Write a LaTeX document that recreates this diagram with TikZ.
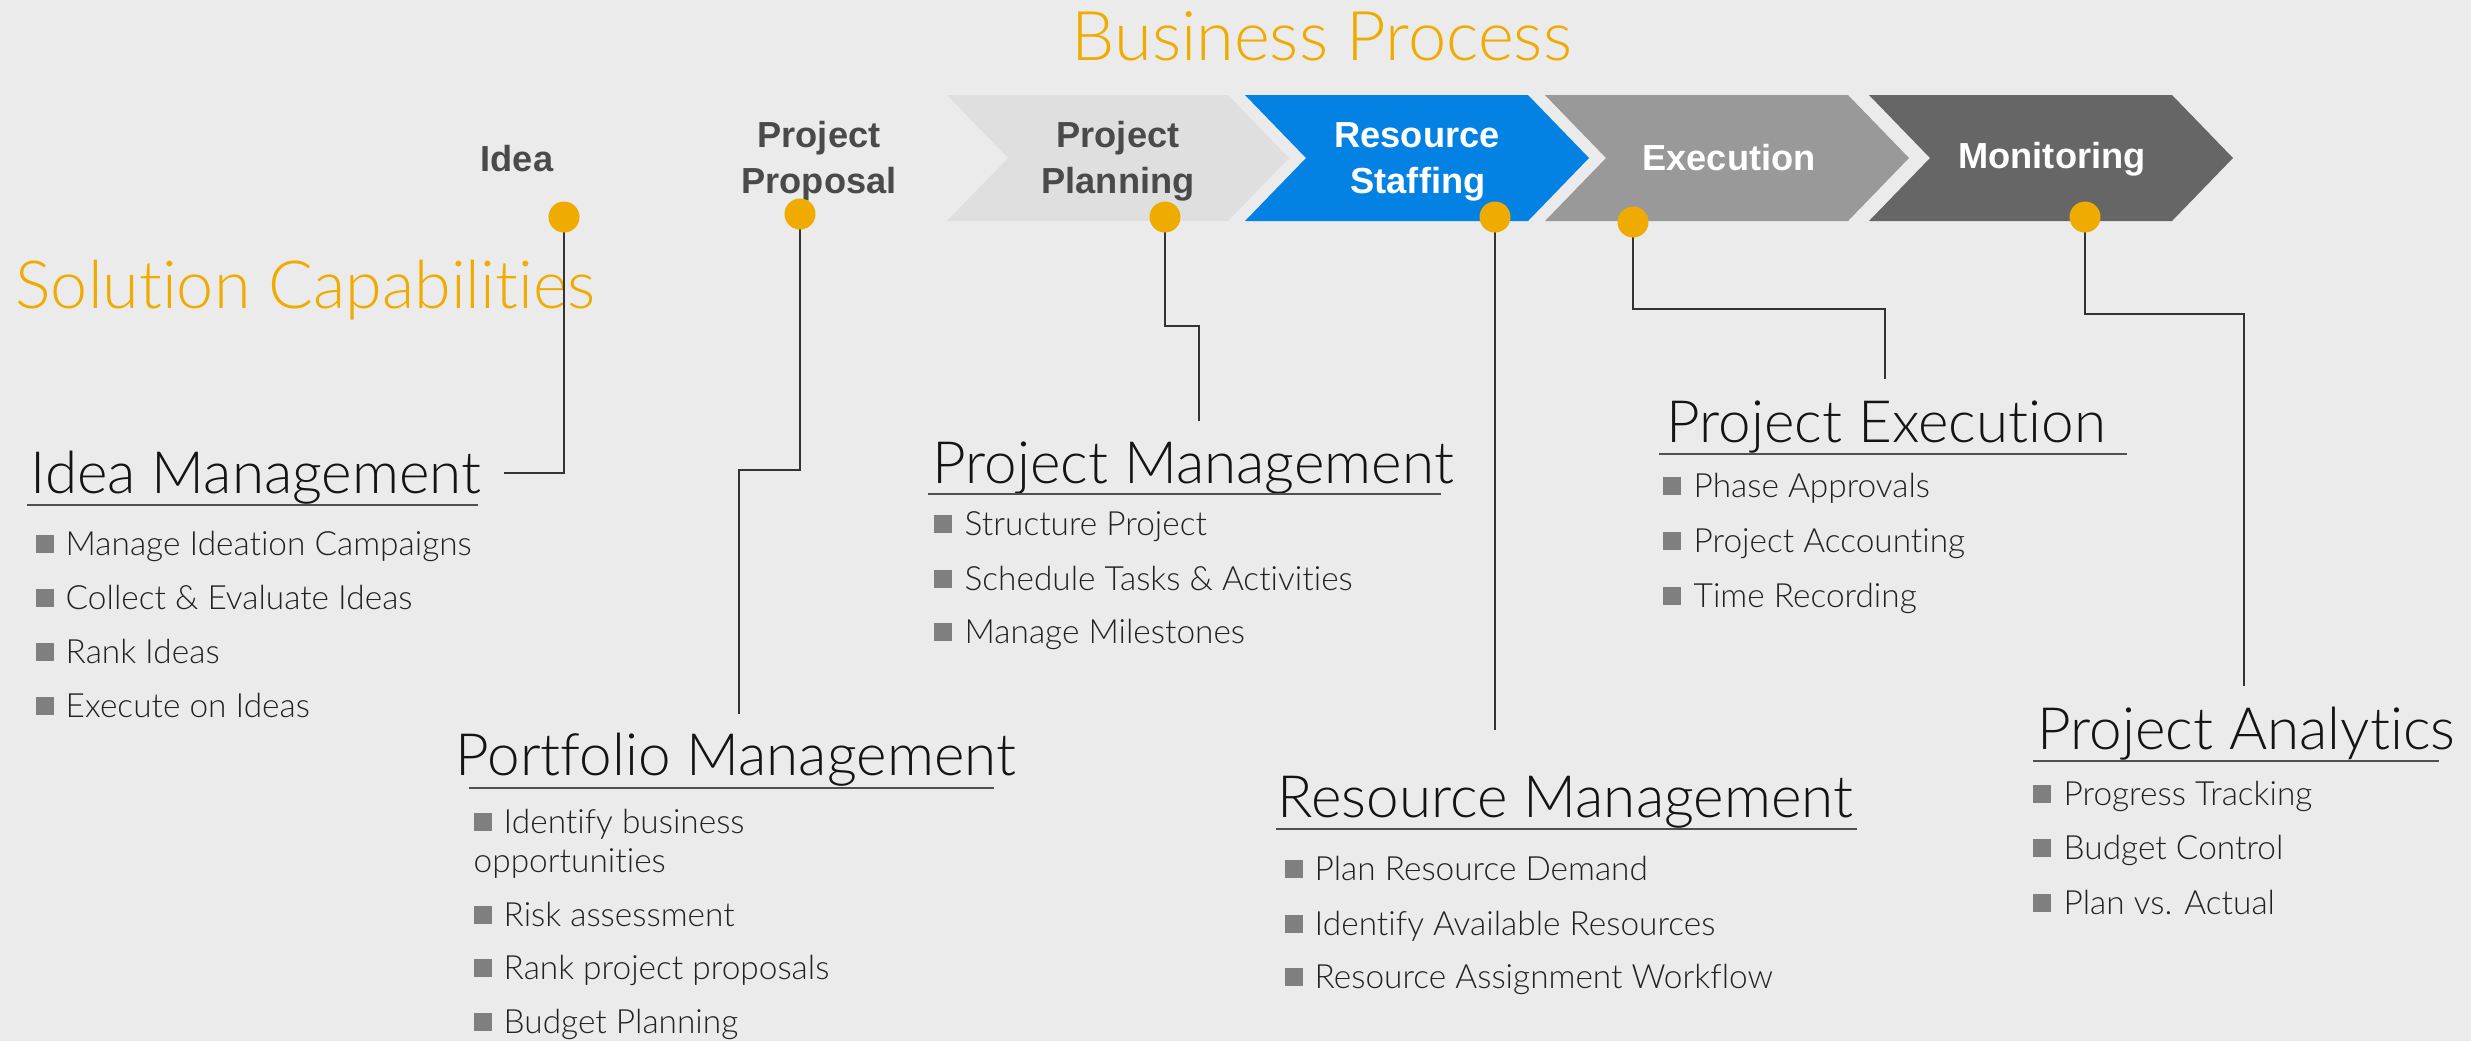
\documentclass[tikz,border=0pt]{standalone}
\usepackage{fontspec}
\IfFontExistsTF{Lato Light}
  {\setmainfont{Lato Light}[Ligatures={NoCommon}]}
  {\setmainfont{Lato}[Ligatures={NoCommon}]}
\newfontfamily\chevfont{Liberation Sans}
\definecolor{bgc}{HTML}{EBEBEB}
\definecolor{sapgold}{HTML}{F0AB00}
\definecolor{planc}{HTML}{DFDFDF}
\definecolor{bluec}{HTML}{0482E3}
\definecolor{execc}{HTML}{999999}
\definecolor{monc}{HTML}{666666}
\definecolor{labc}{HTML}{4A4A4A}
\definecolor{headc}{HTML}{141414}
\definecolor{itemc}{HTML}{222222}
\definecolor{bulletc}{HTML}{7F7F7F}
\definecolor{connc}{HTML}{333333}
\definecolor{ulc}{HTML}{505050}
\newcommand\chevron[3]{%
  \fill[#3] (#1,95) -- (#2,95) -- (#2+61,158) -- (#2,221) -- (#1,221) -- (#1+61,158) -- cycle;}
\newcommand\bitem[5]{%
  \fill[bulletc] (#1,#3-20) rectangle (#1+18,#3-2);
  \node[itemtext] (#4) at (#2,#3) {#5};}
\begin{document}
\begin{tikzpicture}[x=0.01cm,y=-0.01cm,
  titletext/.style={text=sapgold,font=\fontsize{19.5}{23}\selectfont,inner sep=0,anchor=base west},
  headtext/.style={text=headc,font=\fontsize{16.6}{19.5}\selectfont,inner sep=0,anchor=base west},
  itemtext/.style={text=itemc,font=\fontsize{9.5}{11.4}\selectfont,inner sep=0,anchor=base west},
  chevlabel/.style={font=\chevfont\bfseries\fontsize{10.3}{12}\selectfont,inner sep=0,anchor=base},
  golddot/.style={circle,fill=sapgold,minimum size=0.31cm,inner sep=0},
  conn/.style={draw=connc,line width=0.45pt},
  uline/.style={draw=ulc,line width=0.6pt}]
\fill[bgc] (0,0) rectangle (2471,1041);
\useasboundingbox (0,0) rectangle (2471,1041);

% titles
\node[titletext] (bp) at (1071,60) {Business Process};
\node[titletext,font=\fontsize{18.9}{22}\selectfont] (sc) at (15,308) {Solution Capabilities};

% chevrons
\chevron{947}{1228}{planc}
\chevron{1245}{1528}{bluec}
\chevron{1545}{1848}{execc}
\chevron{1869}{2172}{monc}

% process labels
\node[chevlabel,text=labc] (lIdea) at (517,171) {Idea};
\node[chevlabel,text=labc] (lPP1) at (819,147) {Project};
\node[chevlabel,text=labc] (lPP2) at (819,193) {Proposal};
\node[chevlabel,text=labc] (lPl1) at (1118,147) {Project};
\node[chevlabel,text=labc] (lPl2) at (1118,193) {Planning};
\node[chevlabel,text=white] (lRS1) at (1417,147) {Resource};
\node[chevlabel,text=white] (lRS2) at (1418,193) {Staffing};
\node[chevlabel,text=white] (lEx) at (1729,170) {Execution};
\node[chevlabel,text=white] (lMo) at (2052,168) {Monitoring};

% dots (positions)
\coordinate (pIdea) at (564,217);
\coordinate (pProp) at (800,214);
\coordinate (pPlan) at (1165,217);
\coordinate (pRes) at (1495,217);
\coordinate (pExec) at (1633,222);
\coordinate (pMon) at (2085,217);

% connector end points
\coordinate (eIdea) at (504,473);
\coordinate (eProp) at (739,714);
\coordinate (ePlan) at (1199,421);
\coordinate (eRes) at (1495,730);
\coordinate (eExec) at (1885,379);
\coordinate (eMon) at (2244,686);

\draw[conn] (pIdea) |- (eIdea);
\draw[conn] (pProp) -- (800,470) -| (eProp);
\draw[conn] (pPlan) -- (1165,326) -| (ePlan);
\draw[conn] (pRes) -- (eRes);
\draw[conn] (pExec) -- (1633,309) -| (eExec);
\draw[conn] (pMon) -- (2085,314) -| (eMon);

\node[golddot] (dIdea) at (pIdea) {};
\node[golddot] (dProp) at (pProp) {};
\node[golddot] (dPlan) at (pPlan) {};
\node[golddot] (dRes) at (pRes) {};
\node[golddot] (dExec) at (pExec) {};
\node[golddot] (dMon) at (pMon) {};

% Idea Management
\node[headtext] (hIdea) at (30,493) {Idea Management};
\draw[uline] (27,505) -- (478,505);
\bitem{36}{65}{555}{i1}{Manage Ideation Campaigns}
\bitem{36}{65}{609}{i2}{Collect \& Evaluate Ideas}
\bitem{36}{65}{663}{i3}{Rank Ideas}
\bitem{36}{65}{717}{i4}{Execute on Ideas}

% Portfolio Management
\node[headtext] (hPort) at (455,775) {Portfolio Management};
\draw[uline] (469,788) -- (994,788);
\bitem{474}{503}{833}{p1}{Identify business}
\node[itemtext] (p1b) at (473,872) {opportunities};
\bitem{474}{503}{926}{p2}{Risk assessment}
\bitem{474}{503}{979}{p3}{Rank project proposals}
\bitem{474}{503}{1033}{p4}{Budget Planning}

% Project Management
\node[headtext] (hPM) at (932,483) {Project Management};
\draw[uline] (928,494) -- (1441,494);
\bitem{934}{964}{535}{m1}{Structure Project}
\bitem{934}{964}{590}{m2}{Schedule Tasks \& Activities}
\bitem{934}{964}{643}{m3}{Manage Milestones}

% Resource Management
\node[headtext] (hRM) at (1277,817) {Resource Management};
\draw[uline] (1276,829) -- (1857,829);
\bitem{1285}{1314}{880}{r1}{Plan Resource Demand}
\bitem{1285}{1314}{935}{r2}{Identify Available Resources}
\bitem{1285}{1314}{988}{r3}{Resource Assignment Workflow}

% Project Execution
\node[headtext] (hPE) at (1666,442) {Project Execution};
\draw[uline] (1659,454) -- (2127,454);
\bitem{1663}{1693}{497}{x1}{Phase Approvals}
\bitem{1663}{1693}{552}{x2}{Project Accounting}
\bitem{1663}{1693}{607}{x3}{Time Recording}

% Project Analytics
\node[headtext] (hPA) at (2037,749) {Project Analytics};
\draw[uline] (2033,761) -- (2439,761);
\bitem{2033}{2063}{805}{a1}{Progress Tracking}
\bitem{2033}{2063}{859}{a2}{Budget Control}
\bitem{2033}{2063}{914}{a3}{Plan vs. Actual}
\end{tikzpicture}
\end{document}
